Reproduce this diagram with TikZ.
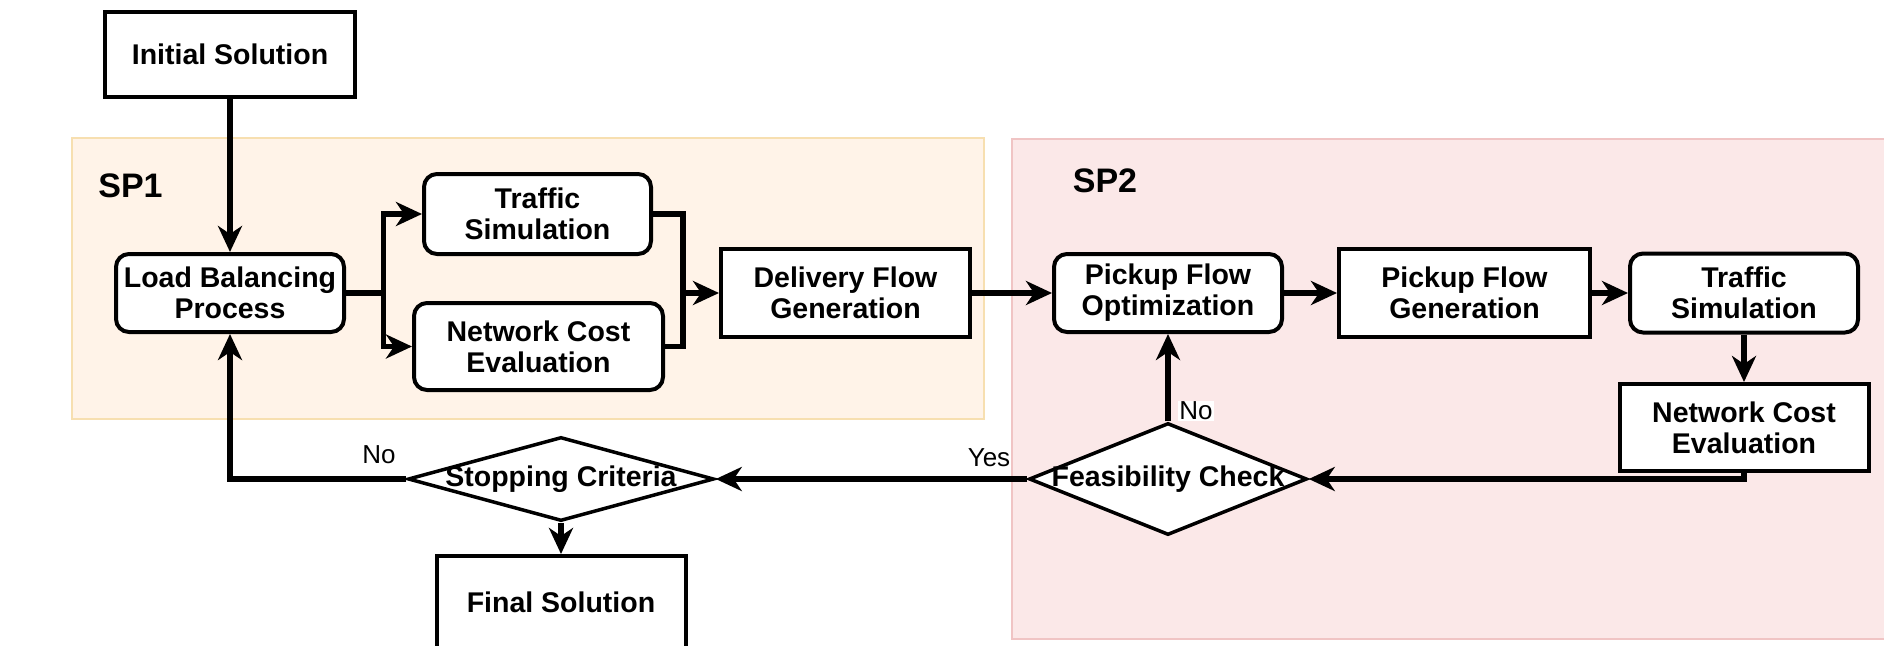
\documentclass[tikz,border=0pt]{standalone}
\usepackage{fontspec}
\setmainfont{Liberation Sans}
\usetikzlibrary{shapes.geometric,arrows.meta,calc}
\definecolor{spAfill}{HTML}{FFF3E8}
\definecolor{spAline}{HTML}{F7DFB0}
\definecolor{spBfill}{HTML}{FBE8E8}
\definecolor{spBline}{HTML}{F0C4C4}
\begin{document}
\begin{tikzpicture}[x=1pt,y=-1pt,
 boxtext/.style={font=\fontsize{28.5}{31}\selectfont\bfseries, align=center, text=black},
 sqbox/.style={boxtext, draw=black, line width=4pt, fill=white, inner sep=0pt},
 rbox/.style={sqbox, rounded corners=13pt},
 dia/.style={draw=black, line width=3.5pt, fill=white, shape=diamond, inner sep=0pt},
 conn/.style={line width=5.5pt, draw=black},
 arr/.style={conn, -{Stealth[length=26pt,width=24pt,inset=8pt]}},
 lbl/.style={font=\fontsize{26}{28}\selectfont, fill=white, inner sep=1pt},
 sptitle/.style={font=\fontsize{34}{36}\selectfont\bfseries},
]
\clip (0,0) rectangle (1884,645);
\fill[white] (0,0) rectangle (1884,645);
% sub-problem regions
\path[fill=spAfill, draw=spAline, line width=2pt] (72,138) rectangle (984,419);
\path[fill=spBfill, draw=spBline, line width=2pt] (1012,139) rectangle (1895,639);
\node[sptitle] (sp1) at (130.5,186) {SP1};
\node[sptitle] (sp2) at (1105,181) {SP2};

% nodes
\node[sqbox, minimum width=250pt, minimum height=85pt] (init) at (230,54) {Initial Solution};
\node[rbox, minimum width=228pt, minimum height=78pt] (lb) at (230,293) {Load Balancing\\Process};
\node[rbox, minimum width=227pt, minimum height=80pt] (ts1) at (537.5,214) {Traffic\\Simulation};
\node[rbox, minimum width=249pt, minimum height=87pt] (nce1) at (538.5,346.5) {Network Cost\\Evaluation};
\node[sqbox, minimum width=249pt, minimum height=88pt] (dfg) at (845.5,293) {Delivery Flow\\Generation};
\node[rbox, minimum width=228pt, minimum height=78pt] (pfo) at (1168,293) {Pickup Flow\\Optimization};
\node[sqbox, minimum width=251pt, minimum height=88pt] (pfg) at (1464.5,293) {Pickup Flow\\Generation};
\node[rbox, minimum width=228pt, minimum height=79pt] (ts2) at (1744,293) {Traffic\\Simulation};
\node[sqbox, minimum width=249pt, minimum height=87pt] (nce2) at (1744,427.5) {Network Cost\\Evaluation};
\node[dia, minimum width=278pt, minimum height=112pt, label={[boxtext]center:Feasibility Check}] (fc) at (1168,479) {};
\node[dia, minimum width=306pt, minimum height=84pt, label={[boxtext]center:Stopping Criteria}] (sc) at (561,479) {};
\node[sqbox, minimum width=249pt, minimum height=92pt] (fs) at (561,602) {Final Solution};

% connectors
\coordinate (sp) at (383.5,293);
\coordinate (mg) at (683,293);
\draw[arr] (init) -- (lb);
\draw[conn] (lb.east) -- (sp);
\draw[arr] (sp) |- (ts1.west);
\draw[arr] (sp) |- (nce1.west);
\draw[conn] (ts1.east) -| (mg) |- (nce1.east);
\draw[arr] (mg) -- (dfg.west);
\draw[arr] (dfg) -- (pfo);
\draw[arr] (pfo) -- (pfg);
\draw[arr] (pfg) -- (ts2);
\draw[arr] (ts2) -- (nce2);
\draw[arr] (nce2.south) |- (fc.east);
\draw[arr] (fc.west) -- (sc.east);
\draw[arr] (fc.north) -- (pfo.south);
\draw[arr] (sc.west) -| (lb.south);
\draw[arr] (sc.south) -- (fs.north);

% labels
\node[lbl] (yes) at (989,458) {Yes};
\node[lbl] (no1) at (1196,411) {No};
\node[lbl] (no2) at (379,455) {No};
\end{tikzpicture}
\end{document}
